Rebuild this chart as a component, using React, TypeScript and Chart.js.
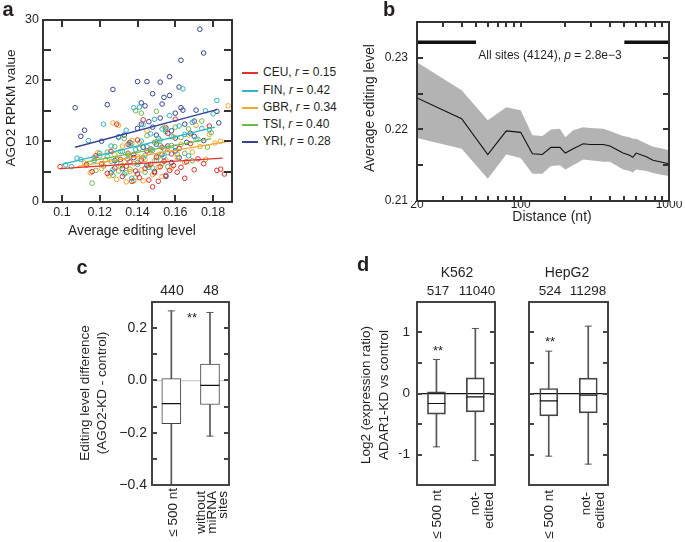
import React, { useEffect, useRef, useState } from 'react';
import { Chart, registerables } from 'chart.js';

const FONT = '"Liberation Sans", Arial, Helvetica, sans-serif';
const INK = '#231f20';
const CLEAR = 'rgba(0,0,0,0)';

// ---------------- Panel a data ----------------
const popNames = ['CEU', 'FIN', 'GBR', 'TSI', 'YRI'];
const popR = ['0.15', '0.42', '0.34', '0.40', '0.28'];
const popColors = ['#e4322b', '#2cb5c2', '#f4a62a', '#6cbb46', '#34449b'];

const ceuPts: number[][] = [[0.099,5.8],[0.113,6.1],[0.116,5.0],[0.118,7.6],[0.121,6.3],[0.124,4.7],[0.126,8.3],[0.128,5.6],[0.129,12.8],[0.131,7.0],[0.132,4.2],[0.134,5.9],[0.135,9.5],[0.136,6.6],[0.137,3.4],[0.138,7.8],[0.139,5.1],[0.140,10.2],[0.141,4.0],[0.142,6.9],[0.143,13.5],[0.144,5.5],[0.145,8.4],[0.146,3.6],[0.147,6.2],[0.148,2.5],[0.149,4.8],[0.150,7.4],[0.151,3.4],[0.152,5.8],[0.153,9.0],[0.154,6.7],[0.155,4.4],[0.156,11.3],[0.157,5.2],[0.158,7.9],[0.159,6.0],[0.160,13.6],[0.161,4.9],[0.162,8.8],[0.163,5.7],[0.165,3.9],[0.166,6.6],[0.168,9.6],[0.170,5.3],[0.172,7.1],[0.175,6.3],[0.178,12.5],[0.182,5.2],[0.184,5.4],[0.186,4.6]];
const finPts: number[][] = [[0.102,6.1],[0.105,5.8],[0.108,7.2],[0.110,7.0],[0.114,10.1],[0.117,6.8],[0.120,8.0],[0.122,12.8],[0.124,7.5],[0.126,9.2],[0.127,5.3],[0.129,6.5],[0.130,10.6],[0.132,8.3],[0.133,4.6],[0.134,11.8],[0.135,7.1],[0.136,9.4],[0.137,3.9],[0.138,15.5],[0.139,8.6],[0.140,6.2],[0.141,15.6],[0.142,10.0],[0.143,12.7],[0.144,7.7],[0.145,9.1],[0.146,5.7],[0.147,11.2],[0.148,8.5],[0.149,13.6],[0.150,6.8],[0.151,10.5],[0.152,9.3],[0.153,12.0],[0.154,7.4],[0.155,11.6],[0.156,8.1],[0.157,14.2],[0.158,10.8],[0.160,9.0],[0.162,12.5],[0.164,18.6],[0.165,11.1],[0.167,7.6],[0.169,13.1],[0.171,10.3],[0.174,12.1],[0.176,15.0],[0.178,11.9],[0.180,14.5],[0.182,16.7]];
const gbrPts: number[][] = [[0.112,6.4],[0.115,4.8],[0.117,7.3],[0.119,8.1],[0.121,5.5],[0.123,6.9],[0.125,4.3],[0.127,13.0],[0.128,7.8],[0.129,3.7],[0.130,12.6],[0.131,5.9],[0.132,9.2],[0.133,6.6],[0.134,3.3],[0.135,8.0],[0.136,5.0],[0.137,10.1],[0.138,6.3],[0.139,4.1],[0.140,7.5],[0.141,9.8],[0.142,5.3],[0.143,3.5],[0.144,7.0],[0.145,11.7],[0.146,6.0],[0.147,8.6],[0.148,4.5],[0.149,6.8],[0.150,9.9],[0.151,5.7],[0.152,7.9],[0.153,4.2],[0.154,12.3],[0.155,6.9],[0.156,8.9],[0.158,5.6],[0.159,10.7],[0.161,7.3],[0.163,9.5],[0.165,6.5],[0.167,11.0],[0.169,8.2],[0.171,12.6],[0.173,9.1],[0.176,7.0],[0.178,11.1],[0.181,9.7],[0.184,10.0],[0.188,15.8]];
const tsiPts: number[][] = [[0.113,6.2],[0.116,3.1],[0.118,5.2],[0.120,7.6],[0.122,5.9],[0.124,8.2],[0.126,6.7],[0.127,4.4],[0.128,9.1],[0.129,7.0],[0.130,5.1],[0.131,8.3],[0.132,6.0],[0.133,10.4],[0.134,4.8],[0.135,7.7],[0.136,5.4],[0.137,9.6],[0.138,3.5],[0.139,15.0],[0.140,6.5],[0.141,8.8],[0.142,14.6],[0.143,7.2],[0.144,4.9],[0.145,10.9],[0.146,6.1],[0.147,8.4],[0.148,5.6],[0.149,9.8],[0.150,14.9],[0.151,7.4],[0.152,10.2],[0.153,6.3],[0.154,8.7],[0.155,11.9],[0.156,5.8],[0.158,9.3],[0.160,12.3],[0.161,7.9],[0.163,10.6],[0.165,8.0],[0.167,12.0],[0.169,6.8],[0.172,10.3],[0.174,13.3],[0.177,9.0],[0.179,11.4]];
const yriPts: number[][] = [[0.107,15.5],[0.110,10.8],[0.112,11.8],[0.121,10.0],[0.124,16.0],[0.126,4.8],[0.127,18.5],[0.128,6.8],[0.130,10.7],[0.132,5.5],[0.133,11.0],[0.135,8.0],[0.136,9.8],[0.138,7.3],[0.140,19.8],[0.140,12.1],[0.140,4.6],[0.142,12.8],[0.142,16.3],[0.143,9.0],[0.144,15.8],[0.145,19.8],[0.145,6.0],[0.146,13.2],[0.147,8.7],[0.148,17.8],[0.148,12.3],[0.149,5.0],[0.150,11.0],[0.150,9.5],[0.152,19.7],[0.152,13.8],[0.153,16.1],[0.153,7.8],[0.154,17.2],[0.155,12.2],[0.155,4.2],[0.156,9.2],[0.157,20.6],[0.157,17.5],[0.158,11.7],[0.158,6.5],[0.160,14.6],[0.160,10.5],[0.160,8.4],[0.162,18.9],[0.162,7.3],[0.163,23.3],[0.163,15.5],[0.164,15.1],[0.165,12.8],[0.166,9.8],[0.168,11.3],[0.170,13.3],[0.170,10.8],[0.171,15.1],[0.173,28.4],[0.175,24.5],[0.175,10.1],[0.182,14.9],[0.183,13.0]];

const ceuFit = [[0.099, 5.5], [0.185, 7.2]];
const finFit = [[0.100, 6.2], [0.181, 12.3]];
const gbrFit = [[0.108, 5.8], [0.189, 10.0]];
const tsiFit = [[0.113, 6.6], [0.179, 10.4]];
const yriFit = [[0.107, 9.0], [0.182, 15.2]];

const aXTicks = [0.1, 0.12, 0.14, 0.16, 0.18];
const aYTicks = [0, 10, 20, 30];
const aYMinor = [5, 15, 25];

// ---------------- Panel b data ----------------
const distNt = [20, 40, 60, 80, 100, 120, 140, 160, 184, 200, 226, 264, 293, 360, 400, 490, 543, 570, 600, 704, 780, 866, 1000];
const meanLevel = [0.2244, 0.2215, 0.2165, 0.2198, 0.2196, 0.2166, 0.2165, 0.2175, 0.2175, 0.2167, 0.2173, 0.2180, 0.2179, 0.2179, 0.2177, 0.2167, 0.2164, 0.2161, 0.2167, 0.2162, 0.2157, 0.2155, 0.2152];
const upperLevel = [0.2294, 0.2255, 0.2213, 0.2231, 0.2227, 0.2192, 0.2191, 0.2200, 0.2201, 0.2189, 0.2199, 0.2203, 0.2202, 0.2201, 0.2198, 0.2191, 0.2189, 0.2187, 0.2187, 0.2180, 0.2176, 0.2174, 0.2171];
const lowerLevel = [0.2188, 0.2173, 0.2131, 0.2165, 0.2160, 0.2138, 0.2138, 0.2149, 0.2150, 0.2144, 0.2150, 0.2158, 0.2157, 0.2155, 0.2155, 0.2144, 0.2142, 0.2140, 0.2144, 0.2142, 0.2139, 0.2137, 0.2135];
const sigBars = [[20, 50], [500, 1000]];
const sigBarLevel = 0.2322;
const bXTicks = [20, 100, 1000];
const bXMinor = [30, 40, 50, 60, 70, 80, 90, 200, 300, 400, 500, 600, 700, 800, 900];
const bYTicks = [0.21, 0.22, 0.23];
const bYMinor = [0.215, 0.225];

// ---------------- Panel c data ----------------
const cCategories = ['≤ 500 nt', 'without\nmiRNA\nsites'];
const cCounts = ['440', '48'];
const cLow = [-0.4, -0.213];
const cQ1 = [-0.165, -0.092];
const cMed = [-0.089, -0.019];
const cQ3 = [0.007, 0.063];
const cHigh = [0.266, 0.26];
const cYTicks = [-0.4, -0.2, 0, 0.2];
const cYMinor = [-0.3, -0.1, 0.1];

// ---------------- Panel d data ----------------
const dCategories = ['≤ 500 nt', 'not-\nedited'];
const k562Counts = ['517', '11040'];
const k562Low = [-0.874, -1.10];
const k562Q1 = [-0.339, -0.30];
const k562Med = [-0.164, -0.055];
const k562Q3 = [0.027, 0.257];
const k562High = [0.557, 1.066];
const hepCounts = ['524', '11298'];
const hepLow = [-1.027, -1.158];
const hepQ1 = [-0.366, -0.317];
const hepMed = [-0.12, -0.027];
const hepQ3 = [0.082, 0.251];
const hepHigh = [0.694, 1.104];
const dYTicks = [-1, 0, 1];
const dYMinor = [-0.5, 0.5];

// ---------------- helpers ----------------
Chart.register(...registerables);
Chart.defaults.font.family = FONT;
Chart.defaults.color = INK;

function pad(rect: number[], area: number[], yW: number, xH: number) {
  const [L, T, W, H] = rect;
  const [x1, y1, x2, y2] = area;
  return { left: x1 - L - yW, top: y1 - T, right: L + W - x2, bottom: T + H - y2 - xH };
}
const sorted = (a: number[]) => [...a].sort((p, q) => p - q);
const fixedTicks = (values: number[]) => (s: any) => { s.ticks = sorted(values).map((v) => ({ value: v })); };
const minusFmt = (s: string) => s.replace('-', '\u2212');

function baseOptions(padding: any) {
  return {
    responsive: false,
    animation: false,
    events: [],
    devicePixelRatio: 1,
    layout: { padding },
    plugins: { legend: { display: false }, tooltip: { enabled: false } },
  };
}

function axis(extra: any, tickLen: number, values: number[], size: number, horiz: boolean, labels: any) {
  return {
    ...extra,
    afterBuildTicks: fixedTicks(values),
    grid: { display: true, drawOnChartArea: false, drawTicks: true, tickLength: -tickLen, color: CLEAR, tickColor: CLEAR },
    border: { display: false },
    ticks: { autoSkip: false, maxRotation: 0, color: INK, ...labels },
    afterFit: (s: any) => { if (horiz) s.height = size; else s.width = size; },
  };
}

// geometry (page pixels)
const A_RECT = [0, 0, 240, 236];
const A_AREA = [43, 14, 232, 202];
const B_RECT = [372, 0, 313, 232];
const B_AREA = [417, 16, 669, 201];
const C_RECT = [110, 280, 130, 262];
const C_AREA = [152, 302, 231, 485];
const K_RECT = [388, 280, 117, 262];
const K_AREA = [417, 302, 497, 485];
const H_RECT = [518, 280, 102, 262];
const H_AREA = [529, 302, 608, 485];

const A_FRAME = { color: '#333', line: 2, xTicks: aXTicks, yTicks: [...aYTicks, ...aYMinor], xLen: 7, yLen: 8 };
const B_FRAME = { color: '#333', line: 2, xTicks: [...bXTicks, ...bXMinor], yTicks: [...bYTicks, ...bYMinor], xLen: 5, yLen: 6 };
const C_FRAME = { color: '#444', line: 2, xTicks: [], yTicks: [...cYTicks, ...cYMinor], xLen: 0, yLen: 5 };
const D_FRAME = { color: '#444', line: 2, xTicks: [], yTicks: [...dYTicks, ...dYMinor], xLen: 0, yLen: 5 };

function makeA() {
  const pts = [ceuPts, finPts, gbrPts, tsiPts, yriPts];
  const fits = [ceuFit, finFit, gbrFit, tsiFit, yriFit];
  return {
    type: 'scatter',
    data: {
      datasets: [
        ...fits.map((f, i) => ({
          data: f.map(([x, y]) => ({ x, y })), showLine: true, borderColor: popColors[i],
          borderWidth: 1.3, pointRadius: 0, order: 0,
        })),
        ...pts.map((p, i) => ({
          data: p.map(([x, y]) => ({ x, y })), showLine: false, pointStyle: 'circle',
          pointRadius: 2.3, borderWidth: 1, borderColor: popColors[i],
          backgroundColor: CLEAR, order: 1,
        })),
      ],
    },
    options: {
      ...baseOptions(pad(A_RECT, A_AREA, 30, 22)),
      scales: {
        x: axis({ type: 'linear', position: 'bottom', min: 0.09, max: 0.19 }, 7, aXTicks, 22, true,
          { padding: 10.5, font: { size: 12.5 }, callback: (v: number) => String(Number(v.toFixed(2))) }),
        y: axis({ type: 'linear', position: 'left', min: 0, max: 30 }, 8, aYTicks, 30, false,
          { padding: 12, font: { size: 12.5 } }),
      },
    },
  };
}

function makeB() {
  return {
    type: 'line',
    data: {
      datasets: [
        { data: distNt.map((x, i) => ({ x, y: upperLevel[i] })), pointRadius: 0, borderWidth: 0, borderColor: CLEAR, backgroundColor: '#b3b3b3', fill: '+1', order: 2, tension: 0 },
        { data: distNt.map((x, i) => ({ x, y: lowerLevel[i] })), pointRadius: 0, borderWidth: 0, borderColor: CLEAR, fill: false, order: 2, tension: 0 },
        { data: distNt.map((x, i) => ({ x, y: meanLevel[i] })), pointRadius: 0, borderWidth: 1.1, borderColor: '#111', fill: false, order: 0, tension: 0 },
        ...sigBars.map(([a, b]) => ({
          data: [{ x: a, y: sigBarLevel }, { x: b, y: sigBarLevel }], pointRadius: 0, borderWidth: 3.5,
          borderColor: '#111', fill: false, order: 0,
        })),
      ],
    },
    options: {
      ...baseOptions(pad(B_RECT, B_AREA, 36, 18)),
      scales: {
        x: axis({ type: 'logarithmic', position: 'bottom', min: 20, max: 1000 }, 5, bXTicks, 18, true,
          { padding: 1, font: { size: 12 }, callback: (v: number) => String(v) }),
        y: axis({ type: 'linear', position: 'left', min: 0.21, max: 0.235 }, 6, bYTicks, 36, false,
          { padding: 15, font: { size: 12 }, callback: (v: number) => v.toFixed(2) }),
      },
    },
  };
}

function makeBox(o: any) {
  const WHISK = '#555';
  const { labels, lo, q1, med, q3, hi, rect, area, yW, min, max, yTicks, fmt, showLabels, zeroColor, boxFill, bw, fontSize, labelPad } = o;
  return {
    type: 'bar',
    data: {
      labels,
      datasets: [
        { type: 'bar', data: q3.map((v: number, i: number) => [v, hi[i]]), backgroundColor: WHISK, barThickness: 1, grouped: false, order: 3 },
        { type: 'bar', data: lo.map((v: number, i: number) => [v, q1[i]]), backgroundColor: WHISK, barThickness: 1, grouped: false, order: 3 },
        { type: 'bar', data: q1.map((v: number, i: number) => [v, q3[i]]), backgroundColor: boxFill, borderColor: '#444', borderWidth: 1, borderSkipped: false, barThickness: bw, grouped: false, order: 2 },
        { type: 'line', data: hi, showLine: false, pointStyle: 'line', pointRadius: 3.5, borderColor: WHISK, borderWidth: 1, order: 1 },
        { type: 'line', data: lo, showLine: false, pointStyle: 'line', pointRadius: 3.5, borderColor: WHISK, borderWidth: 1, order: 1 },
        { type: 'line', data: med, showLine: false, pointStyle: 'line', pointRadius: bw / 2, borderColor: '#111', borderWidth: 1.2, order: 0 },
      ],
    },
    options: {
      ...baseOptions(pad(rect, area, yW, 0)),
      scales: {
        x: { type: 'category', display: false, offset: true },
        y: {
          min, max, afterBuildTicks: fixedTicks(yTicks),
          grid: {
            display: true, drawOnChartArea: true, drawTicks: true, tickLength: -5, lineWidth: 1.2, tickColor: CLEAR,
            color: (c: any) => (c.tick && Math.abs(c.tick.value) < 1e-9 ? zeroColor : CLEAR),
          },
          border: { display: false },
          ticks: { display: showLabels, padding: labelPad, font: { size: fontSize }, color: INK, callback: fmt },
          afterFit: (s: any) => { s.width = yW; },
        },
      },
    },
  };
}

const makeC = () => makeBox({
  labels: cCategories, lo: cLow, q1: cQ1, med: cMed, q3: cQ3, hi: cHigh, rect: C_RECT, area: C_AREA, yW: 36,
  min: -0.4, max: 0.3, yTicks: cYTicks, fmt: (v: number) => minusFmt(v.toFixed(1)),
  showLabels: true, zeroColor: '#cfcfcf', boxFill: '#ffffff', bw: 19, fontSize: 14, labelPad: 10,
});
const makeK = () => makeBox({
  labels: dCategories, lo: k562Low, q1: k562Q1, med: k562Med, q3: k562Q3, hi: k562High, rect: K_RECT, area: K_AREA, yW: 18,
  min: -1.5, max: 1.5, yTicks: dYTicks, fmt: (v: number) => minusFmt(String(Math.round(v))),
  showLabels: true, zeroColor: '#111', boxFill: CLEAR, bw: 18, fontSize: 13.5, labelPad: 12,
});
const makeH = () => makeBox({
  labels: dCategories, lo: hepLow, q1: hepQ1, med: hepMed, q3: hepQ3, hi: hepHigh, rect: H_RECT, area: H_AREA, yW: 0,
  min: -1.5, max: 1.5, yTicks: dYTicks, fmt: (v: number) => minusFmt(String(Math.round(v))),
  showLabels: false, zeroColor: '#111', boxFill: CLEAR, bw: 18, fontSize: 13.5, labelPad: 12,
});

function ChartBox({ rect, make, frame }: { rect: number[]; make: () => any; frame: any }) {
  const ref = useRef<HTMLCanvasElement>(null);
  const [geom, setGeom] = useState<any>(null);
  useEffect(() => {
    const chart: any = new Chart(ref.current as HTMLCanvasElement, make());
    const a = chart.chartArea;
    const sx = chart.scales.x;
    const sy = chart.scales.y;
    setGeom({
      left: Math.round(a.left), top: Math.round(a.top), right: Math.round(a.right), bottom: Math.round(a.bottom),
      xs: (frame.xTicks as number[]).map((v) => Math.round(sx.getPixelForValue(v))),
      ys: (frame.yTicks as number[]).map((v) => Math.round(sy.getPixelForValue(v))),
    });
    return () => chart.destroy();
  }, []);
  const [l, t, w, h] = rect;
  const c = frame.color;
  const lw = frame.line;
  const half = lw / 2;
  const abs = (left: number, top: number, width: number, height: number) => ({
    position: 'absolute' as const, left, top, width, height, background: c,
  });
  return (
    <div style={{ position: 'absolute', left: l, top: t, width: w, height: h }}>
      <canvas ref={ref} width={w} height={h} style={{ width: w, height: h, display: 'block' }} />
      {geom && (
        <>
          <div style={abs(geom.left - half, geom.top - half, geom.right - geom.left + lw, lw)} />
          <div style={abs(geom.left - half, geom.bottom - half, geom.right - geom.left + lw, lw)} />
          <div style={abs(geom.left - half, geom.top - half, lw, geom.bottom - geom.top + lw)} />
          <div style={abs(geom.right - half, geom.top - half, lw, geom.bottom - geom.top + lw)} />
          {geom.xs.map((p: number, i: number) => (
            <React.Fragment key={'x' + i}>
              <div style={abs(p - 1, geom.bottom - frame.xLen, 2, frame.xLen)} />
              <div style={abs(p - 1, geom.top, 2, frame.xLen)} />
            </React.Fragment>
          ))}
          {geom.ys.map((p: number, i: number) => (
            <React.Fragment key={'y' + i}>
              <div style={abs(geom.left, p - 1, frame.yLen, 2)} />
              <div style={abs(geom.right - frame.yLen, p - 1, frame.yLen, 2)} />
            </React.Fragment>
          ))}
        </>
      )}
    </div>
  );
}

function T({ x, y, size = 13, bold = false, rot = false, lh, children }: any) {
  return (
    <div style={{
      position: 'absolute', left: x, top: y, fontSize: size, fontWeight: bold ? 'bold' : 'normal',
      lineHeight: lh ? lh + 'px' : 1.15, whiteSpace: 'pre', textAlign: 'center',
      transform: `translate(-50%,-50%)${rot ? ' rotate(-90deg)' : ''}`,
    }}>{children}</div>
  );
}

function RotLabel({ x, y, size = 13.5, lh = 14, children }: any) {
  return (
    <div style={{
      position: 'absolute', left: x, top: y, fontSize: size, lineHeight: lh + 'px', whiteSpace: 'pre',
      textAlign: 'right', transformOrigin: '100% 50%', transform: 'translate(-100%,-50%) rotate(-90deg)',
    }}>{children}</div>
  );
}

const legendRows = [73, 91, 108, 125, 142];

export default function App() {
  return (
    <div style={{ position: 'absolute', left: 0, top: 0, width: 685, height: 542, background: '#fff', overflow: 'hidden', fontFamily: FONT, color: INK }}>
      <ChartBox rect={A_RECT} make={makeA} frame={A_FRAME} />
      <ChartBox rect={B_RECT} make={makeB} frame={B_FRAME} />
      <ChartBox rect={C_RECT} make={makeC} frame={C_FRAME} />
      <ChartBox rect={K_RECT} make={makeK} frame={D_FRAME} />
      <ChartBox rect={H_RECT} make={makeH} frame={D_FRAME} />

      {/* panel letters */}
      <T x={8} y={9} size={20} bold>a</T>
      <T x={389} y={9} size={20} bold>b</T>
      <T x={82} y={267} size={20} bold>c</T>
      <T x={363} y={264} size={20} bold>d</T>

      {/* panel a */}
      <T x={11} y={108} size={13.6} rot>AGO2 RPKM value</T>
      <T x={132} y={231} size={13.8}>Average editing level</T>
      {popNames.map((n, i) => (
        <React.Fragment key={n}>
          <div style={{ position: 'absolute', left: 242, top: legendRows[i] - 1, width: 16, height: 2, background: popColors[i] }} />
          <div style={{ position: 'absolute', left: 263, top: legendRows[i], fontSize: 12, lineHeight: 1.15, whiteSpace: 'pre', transform: 'translateY(-50%)' }}>
            {n}, <i>r</i> = {popR[i]}
          </div>
        </React.Fragment>
      ))}

      {/* panel b */}
      <T x={370} y={108} size={13.8} rot>Average editing level</T>
      <T x={552} y={216} size={14}>Distance (nt)</T>
      <T x={550} y={56} size={12}>All sites (4124), <i>p</i> = 2.8e&minus;3</T>

      {/* panel c */}
      <T x={93} y={393} size={13.5} rot lh={16.5}>{'Editing level difference\n(AGO2-KD - control)'}</T>
      <T x={172} y={290} size={14}>{cCounts[0]}</T>
      <T x={211} y={290} size={14}>{cCounts[1]}</T>
      <T x={192} y={318} size={13}>**</T>
      <RotLabel x={172} y={488} lh={11}>{cCategories[0]}</RotLabel>
      <RotLabel x={211} y={491} lh={11}>{cCategories[1]}</RotLabel>

      {/* panel d */}
      <T x={374} y={395} size={13.5} rot lh={17.5}>{'Log2 (expression ratio)\nADAR1-KD vs control'}</T>
      <T x={457} y={272} size={14}>K562</T>
      <T x={567} y={272} size={14}>HepG2</T>
      <T x={438} y={291} size={13.5}>{k562Counts[0]}</T>
      <T x={477} y={291} size={13.5}>{k562Counts[1]}</T>
      <T x={550} y={291} size={13.5}>{hepCounts[0]}</T>
      <T x={588} y={291} size={13.5}>{hepCounts[1]}</T>
      <T x={438} y={351} size={13}>**</T>
      <T x={550} y={342} size={13}>**</T>
      <RotLabel x={437} y={490} lh={14}>{dCategories[0]}</RotLabel>
      <RotLabel x={482} y={492} lh={14}>{dCategories[1]}</RotLabel>
      <RotLabel x={549} y={490} lh={14}>{dCategories[0]}</RotLabel>
      <RotLabel x={593} y={492} lh={14}>{dCategories[1]}</RotLabel>
    </div>
  );
}
